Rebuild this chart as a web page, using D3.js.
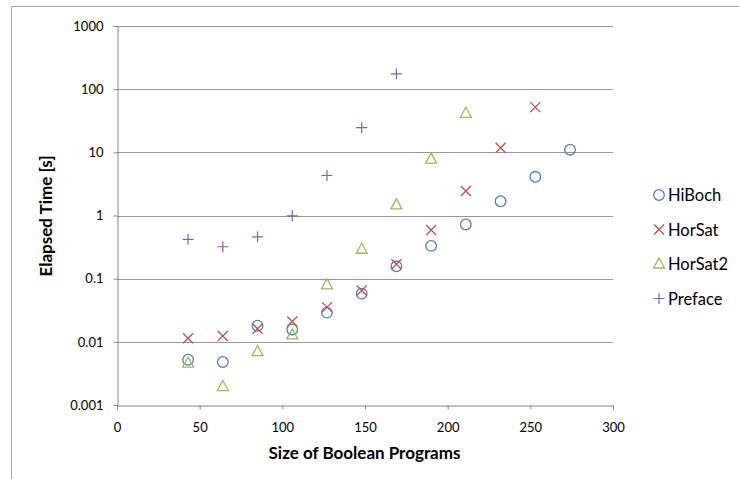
<!DOCTYPE html>
<html>
<head>
<meta charset="utf-8">
<script src="https://cdn.jsdelivr.net/npm/d3@7/dist/d3.min.js"></script>
<style>
  html, body { margin: 0; padding: 0; background: #fff; }
  svg { display: block; }
  text { font-family: Lato, "Open Sans", sans-serif; fill: #000; }
</style>
</head>
<body>
<svg id="chart" width="739" height="479"></svg>
<script>
// ---- data ----
const sizes = [43, 64, 85, 106, 127, 148, 169, 190, 211, 232, 253, 274];
const hiBoch  = [0.0052, 0.0048, 0.018, 0.0157, 0.029, 0.058, 0.157, 0.33, 0.72, 1.68, 4.1, 11.0];
const horSat  = [0.0114, 0.0124, 0.0161, 0.021, 0.0354, 0.065, 0.169, 0.59, 2.45, 11.8, 52];
const horSat2 = [0.0046, 0.00196, 0.0070, 0.0129, 0.080, 0.292, 1.47, 7.8, 41.5];
const preface = [0.42, 0.32, 0.46, 0.99, 4.3, 24.6, 174];
const seriesNames = ["HiBoch", "HorSat", "HorSat2", "Preface"];
const xTicks = [0, 50, 100, 150, 200, 250, 300];
const yTicks = [0.001, 0.01, 0.1, 1, 10, 100, 1000];
const yTickLabels = ["0.001", "0.01", "0.1", "1", "10", "100", "1000"];

const colors = ["#4F81BD", "#C0504D", "#9BBB59", "#8064A2"];
const seriesValues = [hiBoch, horSat, horSat2, preface];

const svg = d3.select("#chart");
const mLeft = 117, mRight = 613, mTop = 26, mBottom = 405;

// outer frame
svg.append("rect").attr("x", 11.5).attr("y", 6.5).attr("width", 760).attr("height", 500)
  .attr("fill", "none").attr("stroke", "#a6a6a6").attr("stroke-width", 1);

const x = d3.scaleLinear().domain([0, 300]).range([mLeft, mRight]);
const y = d3.scaleLog().domain([0.001, 1000]).range([mBottom, mTop]);

// gridlines
svg.append("g").selectAll("line").data(yTicks.slice(1)).join("line")
  .attr("x1", mLeft).attr("x2", mRight)
  .attr("y1", d => Math.round(y(d)) + 0.5).attr("y2", d => Math.round(y(d)) + 0.5)
  .attr("stroke", "#969696").attr("stroke-width", 1);

// y axis
const yAxis = d3.axisLeft(y).tickValues(yTicks)
  .tickFormat((d, i) => yTickLabels[i]).tickSize(4).tickPadding(10);
const gy = svg.append("g").attr("transform", `translate(${mLeft + 0.5},0)`).call(yAxis);
gy.select(".domain").attr("stroke", "#868686");
gy.selectAll(".tick line").attr("stroke", "#868686");
gy.selectAll(".tick text").attr("font-size", 13).attr("font-family", "Lato, sans-serif").attr("fill", "#000");

// x axis
const xAxis = d3.axisBottom(x).tickValues(xTicks).tickFormat(d3.format("d")).tickSize(4).tickPadding(13);
const gx = svg.append("g").attr("transform", `translate(0,${mBottom + 0.5})`).call(xAxis);
gx.select(".domain").attr("stroke", "#868686");
gx.selectAll(".tick line").attr("stroke", "#868686");
gx.selectAll(".tick text").attr("font-size", 13).attr("font-family", "Lato, sans-serif").attr("fill", "#000");

// axis titles
svg.append("text").attr("x", (mLeft + mRight) / 2 - 0.5).attr("y", 459)
  .attr("text-anchor", "middle").attr("font-weight", "bold").attr("font-size", 17)
  .text("Size of Boolean Programs");
svg.append("text").attr("transform", `translate(51.5,216) rotate(-90)`)
  .attr("text-anchor", "middle").attr("font-weight", "bold").attr("font-size", 17)
  .text("Elapsed Time [s]");

// marker drawing
function marker(g, type, color) {
  if (type === 0) {
    g.append("circle").attr("r", 5.3).attr("fill", "none").attr("stroke", color).attr("stroke-width", 1.3);
  } else if (type === 1) {
    g.append("path").attr("d", "M-5,-5L5,5M-5,5L5,-5").attr("stroke", color).attr("stroke-width", 1.3).attr("fill", "none");
  } else if (type === 2) {
    g.append("path").attr("d", "M0,-6L5.5,4L-5.5,4Z").attr("stroke", color).attr("stroke-width", 1.3).attr("fill", "none");
  } else {
    g.append("path").attr("d", "M-5.5,0L5.5,0M0,-5.5L0,5.5").attr("stroke", color).attr("stroke-width", 1.2).attr("fill", "none");
  }
}

seriesValues.forEach((vals, si) => {
  const pts = vals.map((v, i) => ({ x: sizes[i], y: v }));
  const g = svg.append("g");
  g.selectAll("g").data(pts).join("g")
    .attr("transform", d => `translate(${x(d.x)},${y(d.y)})`)
    .each(function () { marker(d3.select(this), si, colors[si]); });
});

// legend
const leg = svg.append("g");
seriesNames.forEach((name, i) => {
  const ly = 195 + i * 34.5;
  const g = leg.append("g").attr("transform", `translate(659,${ly})`);
  marker(g, i, colors[i]);
  leg.append("text").attr("x", 668).attr("y", ly + 6).attr("font-size", 16.5).text(name);
});
</script>
</body>
</html>
